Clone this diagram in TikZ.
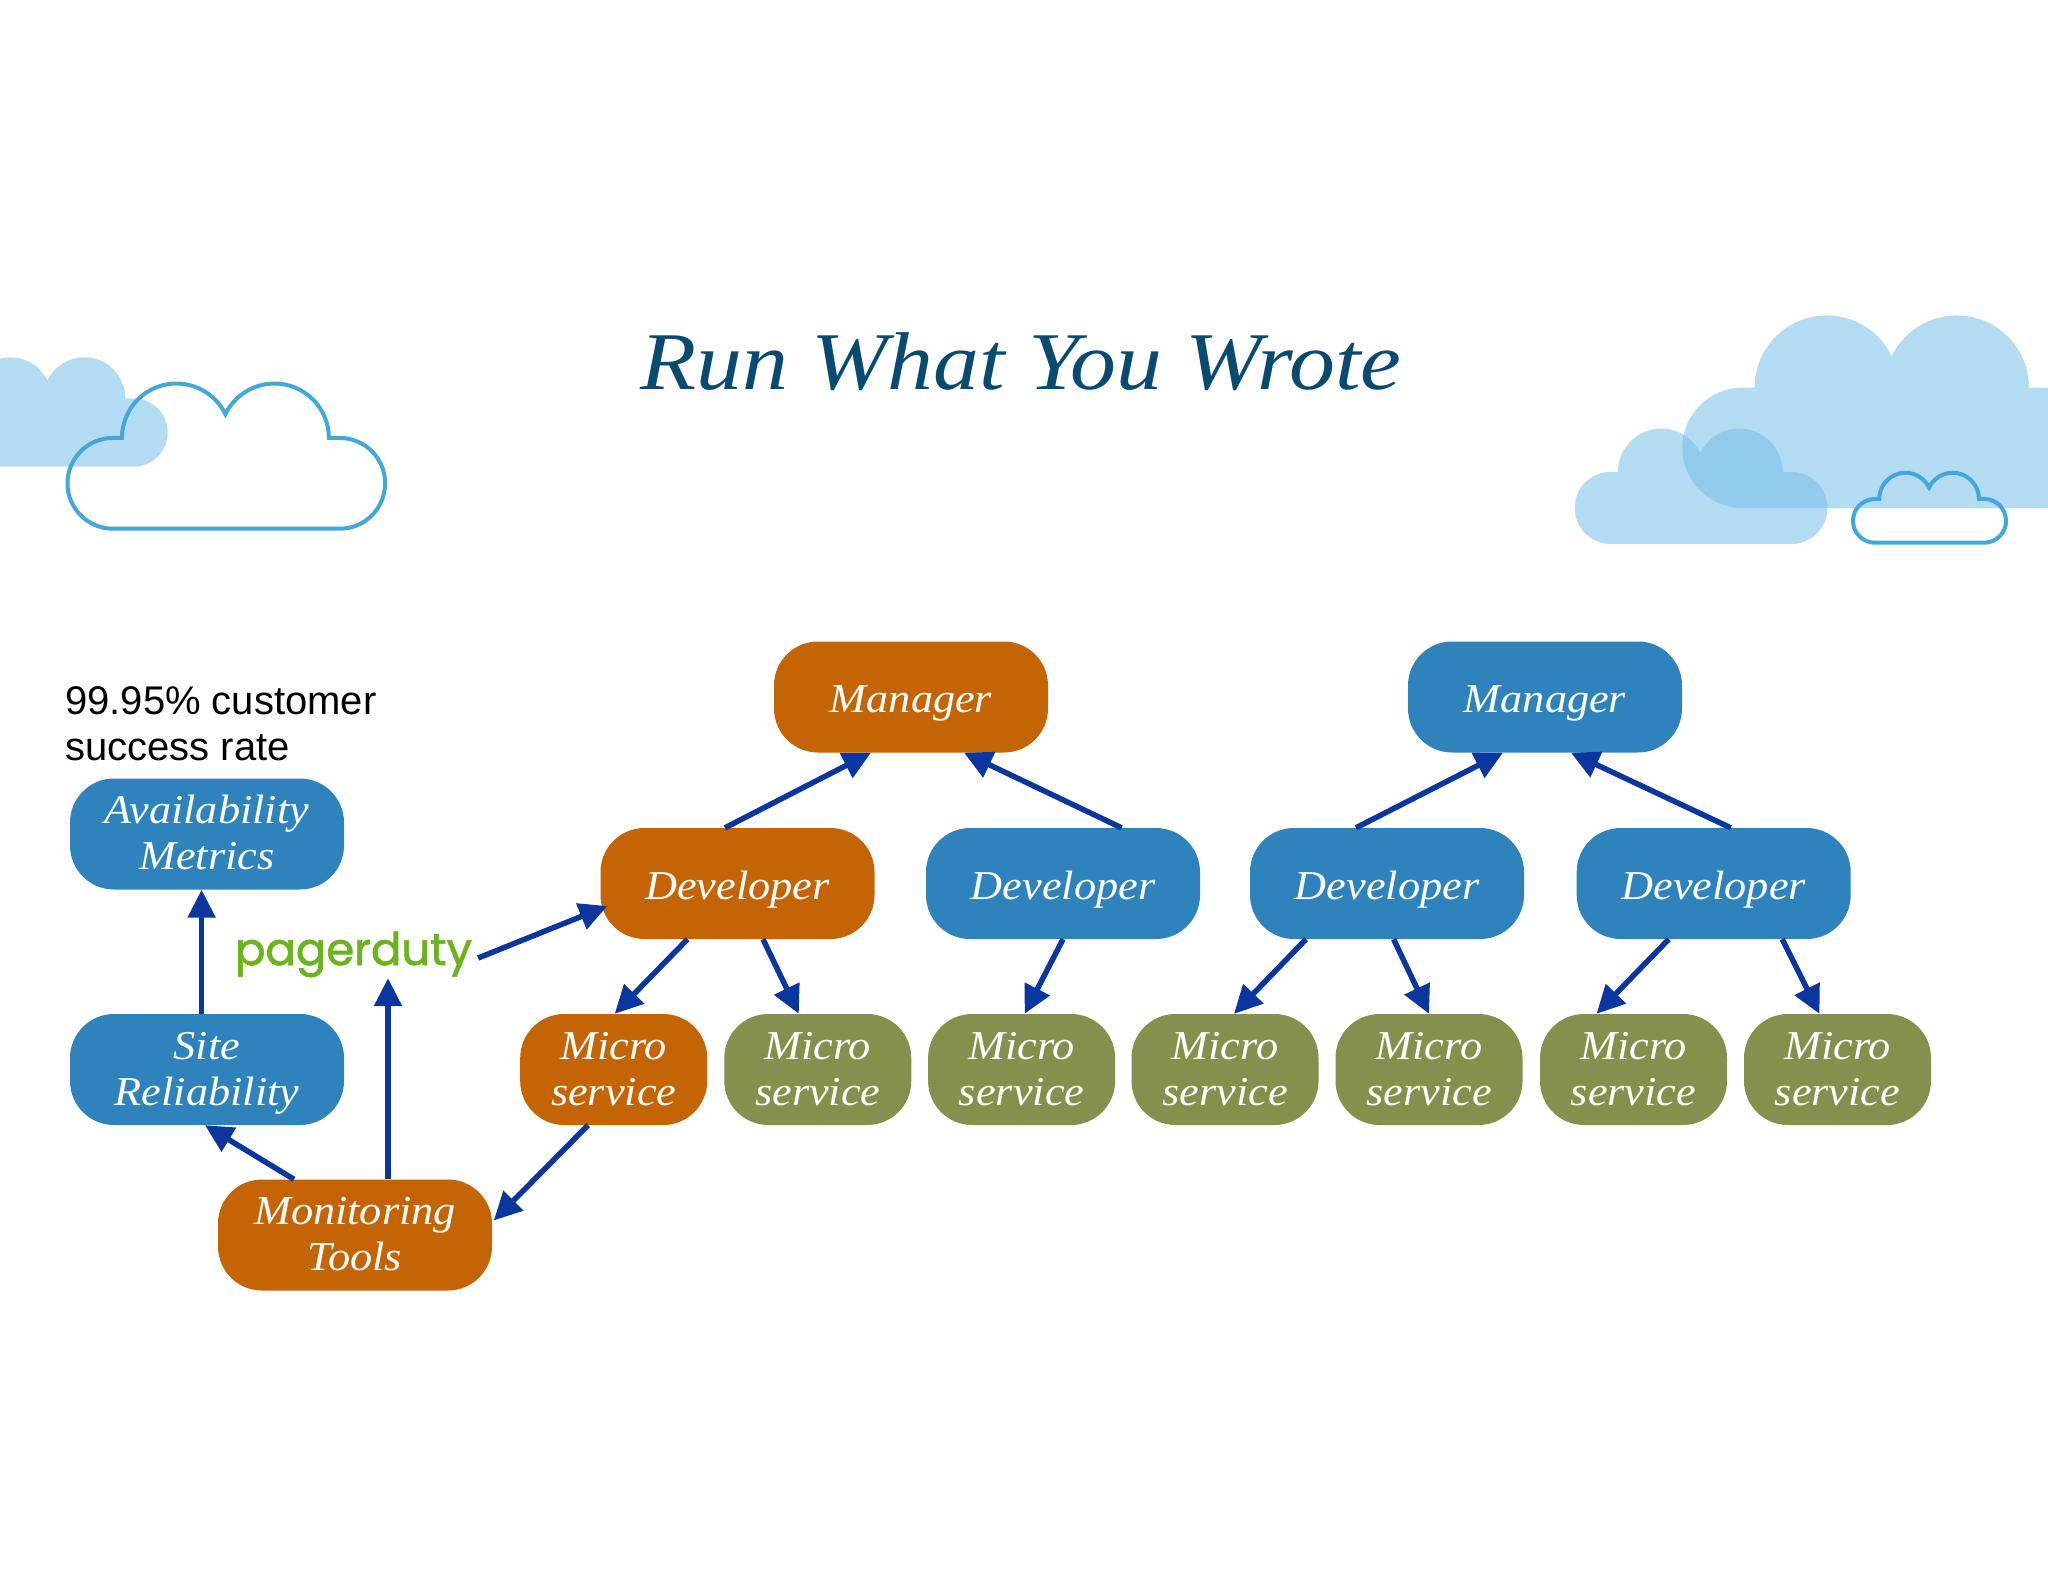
\documentclass[tikz,border=0pt]{standalone}
\usepackage{fontspec}
\setmainfont{Liberation Serif}[FakeStretch=1.08]
\newfontfamily\titlefont{Liberation Serif}[FakeStretch=1.12]
\newfontfamily\labelfont{Liberation Sans}
\newfontfamily\logofont{Poppins}[FakeBold=1.6]
\usetikzlibrary{arrows.meta}
\definecolor{nodeblue}{RGB}{46,131,188}
\definecolor{nodeorange}{RGB}{196,100,4}
\definecolor{nodegreen}{RGB}{132,144,75}
\definecolor{arrowblue}{RGB}{10,54,160}
\definecolor{cloudfillc}{RGB}{117,191,233}
\definecolor{cloudline}{RGB}{66,168,220}
\definecolor{titleblue}{RGB}{8,74,112}
\definecolor{logogreen}{RGB}{108,180,30}
% one cloud, origin at lower left of the base, 962.5 wide and 440 high
\newcommand{\cloudoutline}{(137.5pt,0pt) -- (825pt,0pt) arc[start angle=-90,end angle=90,radius=137.5pt]
  -- (792pt,275pt) arc[start angle=0,end angle=154.16,radius=165pt]
  arc[start angle=25.84,end angle=180,radius=165pt]
  -- (137.5pt,275pt) arc[start angle=90,end angle=270,radius=137.5pt] -- cycle}
% fixed line heights, so that all boxes put their baselines alike
\newcommand{\oneline}[1]{\rule[-9pt]{0pt}{49pt}#1}
\newcommand{\twolines}[2]{\rule{0pt}{34pt}#1\\#2\rule[-9pt]{0pt}{30pt}}
\tikzset{
  box/.style={rectangle,rounded corners=44pt,text=white,align=center,inner sep=0pt,
    font=\fontsize{41}{46}\selectfont\itshape},
  big/.style={box,minimum width=274pt,minimum height=111pt},
  small/.style={box,minimum width=187pt,minimum height=111pt},
  blue/.style={fill=nodeblue},
  orange/.style={fill=nodeorange},
  green/.style={fill=nodegreen},
  link/.style={line width=5.5pt,draw=arrowblue,-{Triangle[length=28pt,width=27pt]}},
  softcloud/.style={fill=cloudfillc,fill opacity=.55},
  linecloud/.style={draw=cloudline,line width=4pt,line join=miter},
}
\begin{document}
\begin{tikzpicture}[x=1pt,y=1pt]
\useasboundingbox (0,0) rectangle (2048,-1582);
% clouds
\fill[softcloud,shift={(-71.5,-466.7)},scale=.2485] \cloudoutline;
\fill[softcloud,shift={(1682.3,-508)},scale=.4376] \cloudoutline;
\fill[softcloud,shift={(1574.7,-544)},scale=.2625] \cloudoutline;
\draw[linecloud,shift={(67.5,-528.7)},scale=.33] \cloudoutline;
\draw[linecloud,shift={(1853,-542.7)},scale=.159] \cloudoutline;
% title and note
\node (title) at (1021,-361.5) {\titlefont\fontsize{82}{90}\selectfont\itshape\color{titleblue}Run What You Wrote};
\node (note) [anchor=north west,align=left,inner sep=0pt,font=\labelfont\fontsize{40}{46}\selectfont] at (65,-686)
  {99.95\% customer\\success rate};
% left column
\node (avail) [big,blue] at (207,-834) {\twolines{Availability}{Metrics}};
\node (site) [big,blue] at (207,-1069.5) {\twolines{Site}{Reliability}};
\node (mon) [big,orange] at (355,-1235) {\twolines{Monitoring}{Tools}};
\node (pd) [text=logogreen,inner sep=0pt,text height=30pt,text depth=14pt,
  font=\logofont\fontsize{45}{45}\selectfont] at (353.5,-957) {pagerduty};
% managers
\node (m1) [big,orange] at (911,-697) {\oneline{Manager}};
\node (m2) [big,blue] at (1545,-697) {\oneline{Manager}};
% developers
\node (d1) [big,orange] at (737.5,-883.5) {\oneline{Developer}};
\node (d2) [big,blue] at (1063,-883.5) {\oneline{Developer}};
\node (d3) [big,blue] at (1387,-883.5) {\oneline{Developer}};
\node (d4) [big,blue] at (1713.7,-883.5) {\oneline{Developer}};
% micro services
\node (s1) [small,orange] at (613.7,-1069.5) {\twolines{Micro}{service}};
\node (s2) [small,green] at (817.8,-1069.5) {\twolines{Micro}{service}};
\node (s3) [small,green] at (1021.6,-1069.5) {\twolines{Micro}{service}};
\node (s4) [small,green] at (1225,-1069.5) {\twolines{Micro}{service}};
\node (s5) [small,green] at (1429,-1069.5) {\twolines{Micro}{service}};
\node (s6) [small,green] at (1633.5,-1069.5) {\twolines{Micro}{service}};
\node (s7) [small,green] at (1837.5,-1069.5) {\twolines{Micro}{service}};
% links
\draw[link] ([xshift=-12.5pt]d1.north) -- ([xshift=-40pt]m1.south);
\draw[link] ([xshift=58.5pt]d2.north) -- ([xshift=53pt]m1.south);
\draw[link] ([xshift=-31pt]d3.north) -- ([xshift=-42pt]m2.south);
\draw[link] ([xshift=17pt]d4.north) -- ([xshift=26pt]m2.south);
\draw[link] ([xshift=-50pt]d1.south) -- ([xshift=1pt]s1.north);
\draw[link] ([xshift=25.5pt]d1.south) -- ([xshift=-19pt]s2.north);
\draw[link] (d2.south) -- ([xshift=3pt]s3.north);
\draw[link] ([xshift=-81pt]d3.south) -- ([xshift=9pt]s4.north);
\draw[link] ([xshift=6.6pt]d3.south) -- (s5.north);
\draw[link] ([xshift=-45pt]d4.south) -- ([xshift=-37pt]s6.north);
\draw[link] ([xshift=68.5pt]d4.south) -- ([xshift=-18pt]s7.north);
\draw[link] ([xshift=-5.4pt]site.north) -- ([xshift=-5.4pt]avail.south);
\draw[link] ([xshift=-61pt]mon.north) -- ([xshift=-2pt]site.south);
\draw[link] ([xshift=33pt]mon.north) -- ([xshift=34.5pt,yshift=1pt]pd.south);
\draw[link] ([xshift=6pt,yshift=-1pt]pd.east) -- ([xshift=7pt,yshift=-22.5pt]d1.west);
\draw[link] ([xshift=-25.7pt]s1.south) -- ([xshift=1.6pt,yshift=14.5pt]mon.east);
\end{tikzpicture}
\end{document}
